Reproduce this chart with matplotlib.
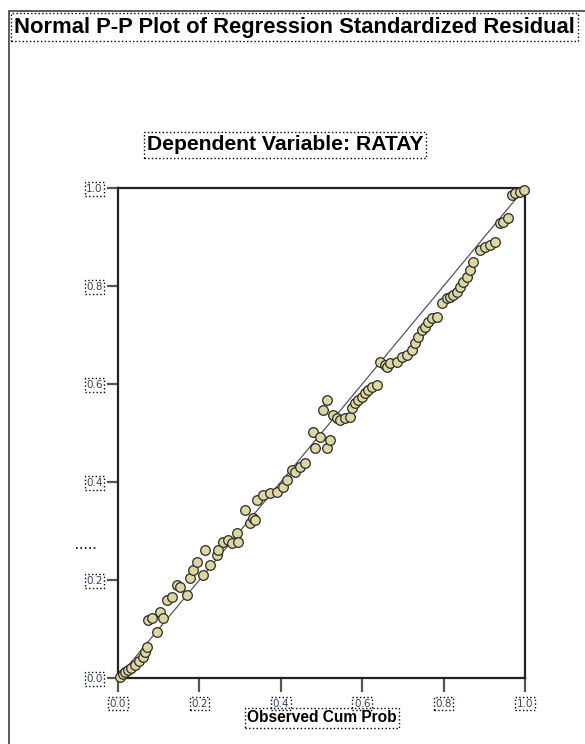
import numpy as np
import matplotlib
matplotlib.use("Agg")
import matplotlib.pyplot as plt
from matplotlib.patches import Rectangle
from matplotlib.lines import Line2D

# observed vs expected cumulative probabilities
observed = [0.005, 0.012, 0.017, 0.025, 0.032, 0.042, 0.052, 0.061, 0.066, 0.071,
            0.074, 0.084, 0.096, 0.103, 0.111, 0.120, 0.133, 0.145, 0.152, 0.170,
            0.177, 0.184, 0.194, 0.209, 0.214, 0.226, 0.243, 0.246, 0.258, 0.270,
            0.280, 0.292, 0.295, 0.312, 0.324, 0.332, 0.337, 0.342, 0.356, 0.373,
            0.391, 0.405, 0.415, 0.428, 0.435, 0.447, 0.459, 0.479, 0.484, 0.496,
            0.504, 0.514, 0.514, 0.521, 0.528, 0.538, 0.545, 0.558, 0.570, 0.575,
            0.582, 0.590, 0.600, 0.607, 0.614, 0.624, 0.636, 0.644, 0.656, 0.661,
            0.668, 0.686, 0.698, 0.710, 0.722, 0.730, 0.737, 0.747, 0.754, 0.762,
            0.771, 0.784, 0.796, 0.808, 0.816, 0.823, 0.833, 0.840, 0.848, 0.857,
            0.865, 0.872, 0.889, 0.902, 0.914, 0.926, 0.939, 0.946, 0.958, 0.968,
            0.975, 0.988, 0.998]
expected = [0.002, 0.008, 0.012, 0.016, 0.020, 0.027, 0.035, 0.043, 0.053, 0.063,
            0.118, 0.122, 0.094, 0.135, 0.122, 0.159, 0.165, 0.190, 0.186, 0.169,
            0.204, 0.220, 0.237, 0.210, 0.261, 0.231, 0.251, 0.261, 0.278, 0.282,
            0.276, 0.296, 0.278, 0.343, 0.316, 0.327, 0.322, 0.363, 0.373, 0.378,
            0.380, 0.390, 0.404, 0.424, 0.420, 0.431, 0.439, 0.502, 0.469, 0.492,
            0.547, 0.567, 0.469, 0.486, 0.537, 0.531, 0.527, 0.531, 0.533, 0.551,
            0.561, 0.567, 0.573, 0.582, 0.588, 0.594, 0.598, 0.645, 0.639, 0.635,
            0.643, 0.645, 0.655, 0.659, 0.669, 0.684, 0.696, 0.710, 0.716, 0.727,
            0.735, 0.737, 0.765, 0.776, 0.778, 0.782, 0.788, 0.798, 0.808, 0.818,
            0.833, 0.849, 0.873, 0.880, 0.884, 0.890, 0.929, 0.931, 0.939, 0.986,
            0.990, 0.992, 0.996]
ticks = [0.0, 0.2, 0.4, 0.6, 0.8, 1.0]
tick_labels = ["0.0", "0.2", "0.4", "0.6", "0.8", "1.0"]

W, H = 585, 744
fam = ["Liberation Sans", "DejaVu Sans"]
dotted = dict(boxstyle="square,pad=0.15", fc="none", ec="black", ls=":", lw=1.0)

fig = plt.figure(figsize=(W / 100, H / 100), dpi=100)
fig.patch.set_facecolor("white")

# outer chart frame
fig.add_artist(Rectangle((9 / W, -0.05), 1.2, 1.05 - 11 / H, transform=fig.transFigure,
                         fill=False, ec="#404040", lw=1.2))

ax = fig.add_axes([118 / W, 1 - 678 / H, 407 / W, 490 / H])
ax.plot([0, 1], [0, 1], color="#555555", lw=0.9, zorder=2)
ax.scatter(observed, expected, s=48, c="#dcd6a0", edgecolors="#2a2a2a",
           linewidths=0.9, zorder=3, clip_on=False)
ax.set_xlim(0, 1)
ax.set_ylim(0, 1)
for sp in ax.spines.values():
    sp.set_linewidth(1.6)
    sp.set_color("#222222")
ax.set_xticks(ticks)
ax.set_yticks(ticks)
ax.set_xticklabels(tick_labels)
ax.set_yticklabels(tick_labels)
ax.tick_params(axis="x", direction="out", length=10, width=1.6, color="#555555",
               labelsize=7.5, labelcolor="#334466", pad=5)
ax.tick_params(axis="y", direction="out", length=8, width=1.6, color="#555555",
               labelsize=7.5, labelcolor="#334466", pad=3)
for lab in ax.get_xticklabels() + ax.get_yticklabels():
    lab.set_bbox(dotted)

fig.text(14 / W, 1 - 27 / H, "Normal P-P Plot of Regression Standardized Residual",
         family=fam, fontsize=15.8, fontweight="bold", va="center", ha="left",
         bbox=dict(boxstyle="square,pad=0.15", fc="none", ec="black", ls=":", lw=1.0))
fig.text(285 / W, 1 - 145 / H, "Dependent Variable: RATAY", family=fam,
         fontsize=15.2, fontweight="bold", va="center", ha="center", bbox=dotted)
fig.text(322 / W, 1 - 718 / H, "Observed Cum Prob", family=fam, fontsize=11.2,
         fontweight="bold", va="center", ha="center", bbox=dotted)
# collapsed (empty) y-axis label box
fig.add_artist(Line2D([76 / W, 97 / W], [1 - 548 / H] * 2, transform=fig.transFigure,
                      ls=":", color="black", lw=1.2))

fig.savefig("out.png", dpi=100, facecolor="white")
